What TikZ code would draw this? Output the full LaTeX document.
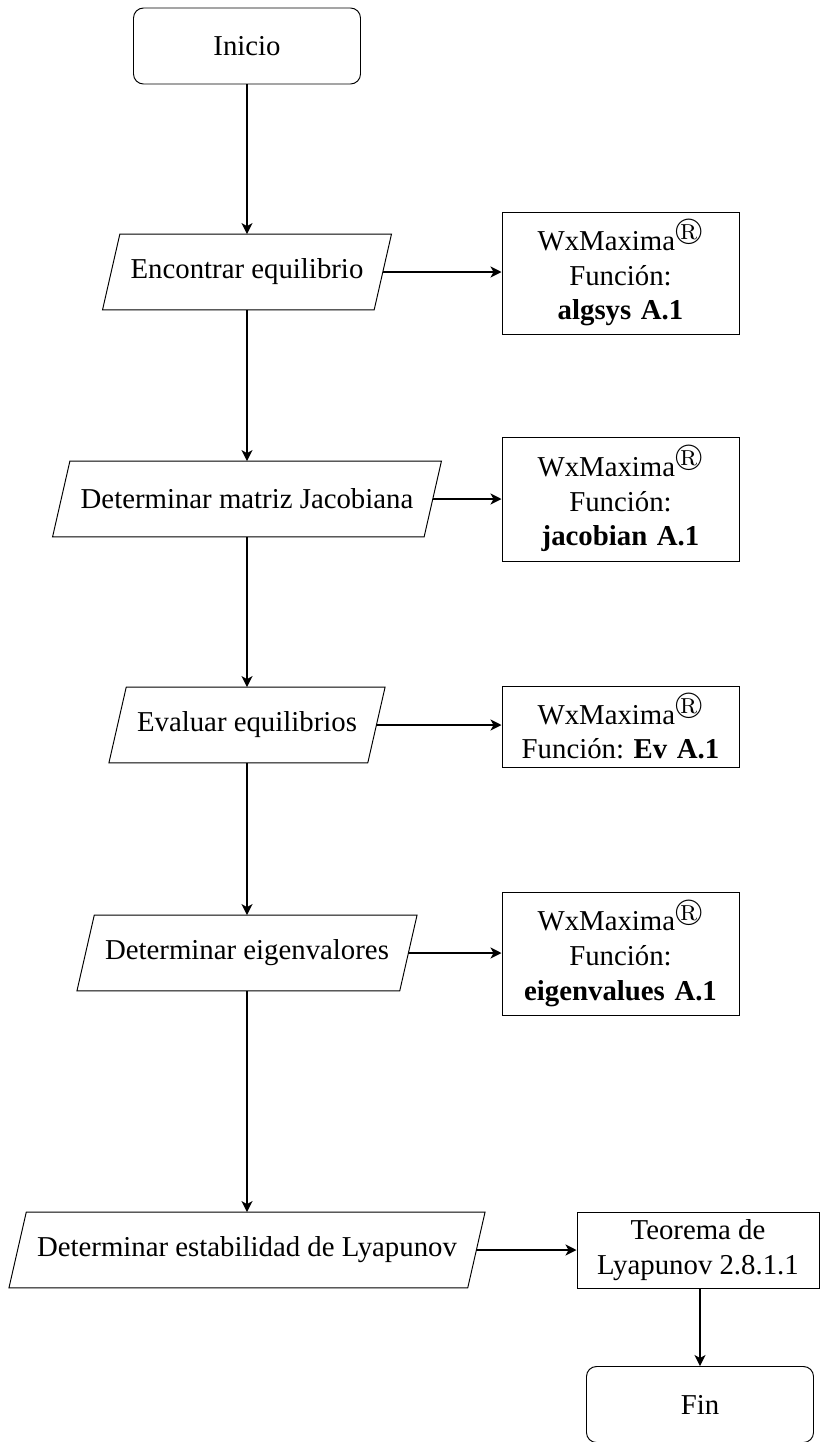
\documentclass[tikz,border=0pt]{standalone}
\usepackage{amssymb}
\usepackage{fontspec}
\setmainfont{Liberation Serif}
\usetikzlibrary{arrows.meta}
\tikzset{
  txt/.style={font=\fontsize{14.4pt}{17.4pt}\selectfont\frenchspacing},
  bline/.style={line width=0.48pt},
  term/.style={txt, draw, bline, rounded corners=5pt, minimum width=113.5pt, minimum height=38pt},
  io/.style={txt, inner xsep=5.2pt, minimum height=37.5pt},
  tool/.style={txt, draw, bline, align=center, text width=110pt, minimum width=118.5pt, inner xsep=0pt},
  arr/.style={line width=0.96pt, -{Stealth[length=5.5pt, width=5.5pt, inset=1.5pt]}}
}
\newcommand\paral[1]{%
  \draw[bline] ([xshift=-8.66pt]#1.south west) -- (#1.north west) -- ([xshift=8.66pt]#1.north east) -- (#1.south east) -- cycle;}
\begin{document}
\begin{tikzpicture}[x=0.5pt, y=-0.5pt]
\useasboundingbox (0,0) rectangle (820,1442);
\node[term] (ini) at (247,46) {Inicio};
\node[io] (p1) at (247,272) {Encontrar equilibrio};
\node[io] (p2) at (247,499) {Determinar matriz Jacobiana};
\node[io] (p3) at (247,725) {Evaluar equilibrios};
\node[io] (p4) at (247,953) {Determinar eigenvalores};
\node[io] (p5) at (247,1250) {Determinar estabilidad de Lyapunov};
\paral{p1}\paral{p2}\paral{p3}\paral{p4}\paral{p5}
\node[tool, minimum height=61pt] (b1) at (620.5,273) {WxMaxima$^{\circledR}$\\ Función:\\ \textbf{algsys A.1}};
\node[tool, minimum height=62pt] (b2) at (620.5,499) {WxMaxima$^{\circledR}$\\ Función:\\ \textbf{jacobian A.1}};
\node[tool, minimum height=40.5pt] (b3) at (620.5,726.5) {WxMaxima$^{\circledR}$\\ Función: \textbf{Ev A.1}};
\node[tool, minimum height=61.5pt] (b4) at (620.5,953.5) {WxMaxima$^{\circledR}$\\ Función:\\ \textbf{eigenvalues A.1}};
\node[txt, draw, bline, align=center, minimum width=121pt, minimum height=38pt] (b5) at (698,1250) {Teorema de\\ Lyapunov 2.8.1.1};
\node[term] (fin) at (700,1404.5) {Fin};
\draw[arr] (ini) -- (p1);
\draw[arr] (p1) -- (p2);
\draw[arr] (p2) -- (p3);
\draw[arr] (p3) -- (p4);
\draw[arr] (p4) -- (p5);
\draw[arr] ([xshift=4.33pt]p1.east) -- (p1.east -| b1.west);
\draw[arr] ([xshift=4.33pt]p2.east) -- (p2.east -| b2.west);
\draw[arr] ([xshift=4.33pt]p3.east) -- (p3.east -| b3.west);
\draw[arr] ([xshift=4.33pt]p4.east) -- (p4.east -| b4.west);
\draw[arr] ([xshift=4.33pt]p5.east) -- (p5.east -| b5.west);
\draw[arr] (b5.south -| fin.north) -- (fin.north);
\end{tikzpicture}
\end{document}
